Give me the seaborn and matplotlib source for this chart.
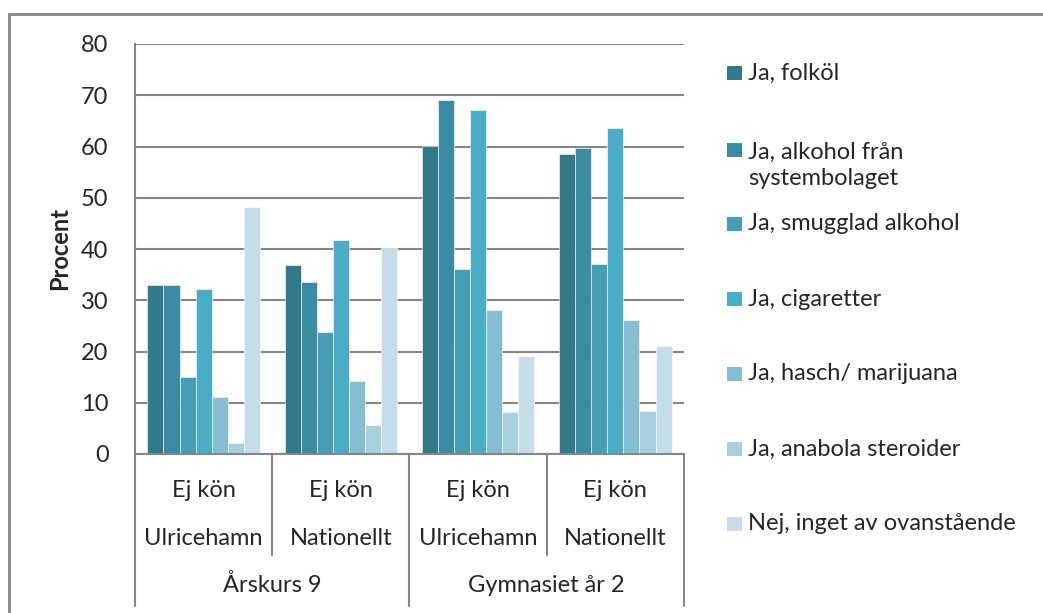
import matplotlib
matplotlib.use("Agg")
import matplotlib.pyplot as plt
import matplotlib.transforms as mtransforms
from matplotlib.lines import Line2D
from matplotlib.patches import Rectangle
import pandas as pd
import seaborn as sns

# ----------------------------
# Data
# ----------------------------
groups = ["Årskurs 9|Ulricehamn", "Årskurs 9|Nationellt",
          "Gymnasiet år 2|Ulricehamn", "Gymnasiet år 2|Nationellt"]
level1 = ["Ej kön", "Ej kön", "Ej kön", "Ej kön"]
level2 = ["Ulricehamn", "Nationellt", "Ulricehamn", "Nationellt"]
level3 = ["Årskurs 9", "Gymnasiet år 2"]

categories = ["Ja, folköl", "Ja, alkohol från\nsystembolaget", "Ja, smugglad alkohol",
              "Ja, cigaretter", "Ja, hasch/ marijuana", "Ja, anabola steroider",
              "Nej, inget av ovanstående"]

folkol = [33.0, 36.8, 60.1, 58.5]
alkohol_system = [33.0, 33.5, 69.1, 59.8]
smugglad = [15.1, 23.8, 36.1, 37.0]
cigaretter = [32.1, 41.7, 67.1, 63.6]
hasch = [11.1, 14.2, 28.1, 26.2]
anabola = [2.1, 5.7, 8.1, 8.4]
inget = [48.1, 40.2, 19.1, 21.1]

series = [folkol, alkohol_system, smugglad, cigaretter, hasch, anabola, inget]
colors = ["#327a8b", "#3b8ba3", "#459db6", "#4bacc6", "#86bed1", "#a8cfde", "#c5dde6"]

rows = []
for cat, vals in zip(categories, series):
    for g, v in zip(groups, vals):
        rows.append({"grupp": g, "kategori": cat, "procent": v})
df = pd.DataFrame(rows)

# ----------------------------
# Plot
# ----------------------------
sns.set_style("white")
plt.rcParams["font.family"] = ["Lato", "DejaVu Sans"]
FS = 17

W, H = 1043, 613
fig = plt.figure(figsize=(W / 100, H / 100), dpi=100)
ax = fig.add_axes([135 / W, (H - 454) / H, (684 - 135) / W, (454 - 44) / H])

sns.barplot(data=df, x="grupp", y="procent", hue="kategori", order=groups,
            hue_order=categories, palette=colors, saturation=1, width=0.82,
            errorbar=None, edgecolor="white", linewidth=0.4, legend=False, ax=ax)

grid_c = "#868686"
ax.set_ylim(0, 80)
ax.set_xlim(-0.5, 3.5)
ax.set_yticks(range(0, 81, 10))
ax.yaxis.grid(True, color=grid_c, linewidth=1.5)
ax.set_axisbelow(True)
ax.tick_params(axis="y", length=0, pad=19, labelsize=FS)
ax.set_xticks([])
ax.set_xlabel("")
ax.set_ylabel("")
for s in ["top", "right"]:
    ax.spines[s].set_visible(False)
for s in ["left", "bottom"]:
    ax.spines[s].set_color(grid_c)
    ax.spines[s].set_linewidth(1.5)

fig.text(60 / W, (H - 249) / H, "Procent", rotation=90, fontsize=FS,
         fontweight="bold", ha="center", va="center")

# multi-level category axis
trans = mtransforms.blended_transform_factory(ax.transData, ax.transAxes)
for i in range(len(groups)):
    ax.text(i, -0.088, level1[i], transform=trans, ha="center", va="center", fontsize=FS)
    ax.text(i, -0.205, level2[i], transform=trans, ha="center", va="center", fontsize=FS)
for j, lab in enumerate(level3):
    ax.text(2 * j + 0.5, -0.320, lab, transform=trans, ha="center", va="center", fontsize=FS)

for xs in [-0.5, 1.5, 3.5]:
    ax.add_line(Line2D([xs, xs], [0, -0.37], transform=trans, color=grid_c,
                       linewidth=1.5, clip_on=False))
for xs in [0.5, 2.5]:
    ax.add_line(Line2D([xs, xs], [0, -0.247], transform=trans, color=grid_c,
                       linewidth=1.5, clip_on=False))

# legend (drawn by hand, Excel style)
leg_y = [73, 150, 224, 299, 374, 449, 524]
for cat, col, y in zip(categories, colors, leg_y):
    fig.patches.append(Rectangle((727 / W, (H - y - 7) / H), 15 / W, 14 / H,
                                 transform=fig.transFigure, facecolor=col, edgecolor="none"))
    ty = y + 15 if "\n" in cat else y
    fig.text(748 / W, (H - ty) / H, cat, fontsize=FS, ha="left", va="center",
             linespacing=1.3)

# outer frame
fig.add_artist(Line2D([9 / W, 1], [(H - 14) / H, (H - 14) / H], transform=fig.transFigure,
                      color=grid_c, linewidth=2))
fig.add_artist(Line2D([9 / W, 9 / W], [0, (H - 14) / H], transform=fig.transFigure,
                      color=grid_c, linewidth=2))

fig.savefig("out.png", dpi=100, facecolor="white")
